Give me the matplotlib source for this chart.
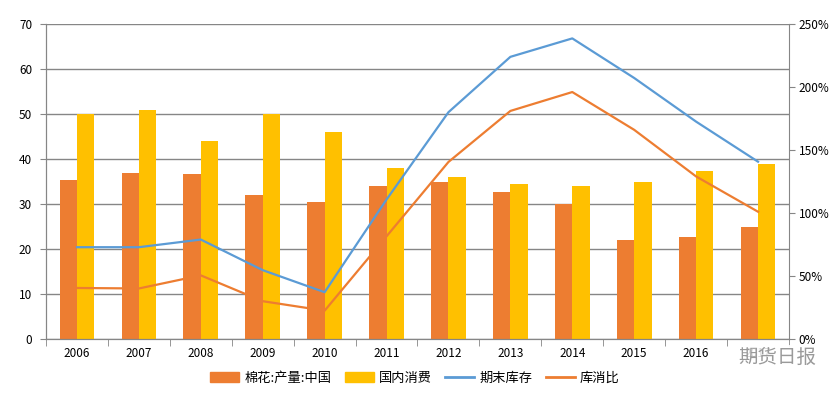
import matplotlib
matplotlib.use('Agg')
import matplotlib.pyplot as plt
import numpy as np
from matplotlib.patches import Patch
from matplotlib.lines import Line2D
from matplotlib.ticker import FuncFormatter

plt.rcParams['font.family'] = ['Noto Sans CJK SC', 'DejaVu Sans']

# 数据
years = ['2006', '2007', '2008', '2009', '2010', '2011',
         '2012', '2013', '2014', '2015', '2016', '2017']
production = [35.3, 36.9, 36.7, 32.0, 30.4, 34.0, 34.9, 32.7, 30.0, 22.0, 22.7, 24.9]
consumption = [50.0, 50.9, 44.0, 50.0, 46.0, 38.0, 36.0, 34.4, 34.0, 34.9, 37.3, 38.9]
ending_stock = [20.4, 20.4, 22.1, 15.3, 10.4, 31.0, 50.4, 62.7, 66.8, 58.0, 48.3, 39.4]
stock_ratio = [40.5, 40.1, 50.5, 30.0, 22.5, 81.5, 140.5, 181.0, 196.0, 166.0, 129.0, 101.0]

c_orange = '#ED7D31'
c_yellow = '#FFC000'
c_blue = '#5B9BD5'
c_grid = '#868686'

fig = plt.figure(figsize=(8.4, 3.96), dpi=100)
ax = fig.add_axes([46 / 840, 1 - 339 / 396, 743 / 840, 315 / 396])
ax2 = ax.twinx()

x = np.arange(len(years))
w = 0.28
ax.bar(x - w / 2, production, w, color=c_orange, zorder=2)
ax.bar(x + w / 2, consumption, w, color=c_yellow, zorder=2)
ax.plot(x, ending_stock, color=c_blue, lw=1.6, zorder=3)
ax2.plot(x, stock_ratio, color=c_orange, lw=1.6)

ax.set_xlim(-0.5, len(years) - 0.5)
ax.set_ylim(0, 70)
ax.set_yticks(range(0, 71, 10))
ax2.set_ylim(0, 250)
ax2.set_yticks(range(0, 251, 50))
ax2.yaxis.set_major_formatter(FuncFormatter(lambda v, p: f'{int(v)}%'))

ax.grid(axis='y', color=c_grid, lw=1.0, zorder=0)
ax.set_axisbelow(True)

# x轴刻度：标签在中间，刻度线在边界
ax.set_xticks(x)
ax.set_xticklabels(years)
ax.set_xticks(np.arange(-0.5, len(years)), minor=True)
ax.tick_params(axis='x', which='major', length=0, pad=6, labelsize=8.5)
ax.tick_params(axis='x', which='minor', length=5, color=c_grid)
ax.tick_params(axis='y', length=4, color=c_grid, labelsize=8.5, pad=6)
ax2.tick_params(axis='y', length=4, color=c_grid, labelsize=8.5, pad=3)

for a in (ax, ax2):
    a.spines['top'].set_visible(False)
    for s in ('left', 'right', 'bottom'):
        a.spines[s].set_color(c_grid)
ax.spines['right'].set_visible(False)

handles = [Patch(color=c_orange), Patch(color=c_yellow),
           Line2D([], [], color=c_blue, lw=2), Line2D([], [], color=c_orange, lw=2)]
labels = ['棉花:产量:中国', '国内消费', '期末库存', '库消比']
fig.legend(handles, labels, loc='center', bbox_to_anchor=(0.494, 0.045), ncol=4,
           frameon=False, fontsize=9.5, handlelength=2.2, handleheight=0.7,
           columnspacing=1.0, handletextpad=0.4)

# 水印
fig.text(0.925, 0.098, '期货日报', fontsize=14, color='#9a9a9a', ha='center', va='center',
         bbox=dict(facecolor='white', edgecolor='none', alpha=0.85, pad=1))

fig.savefig('out.png', dpi=100)
